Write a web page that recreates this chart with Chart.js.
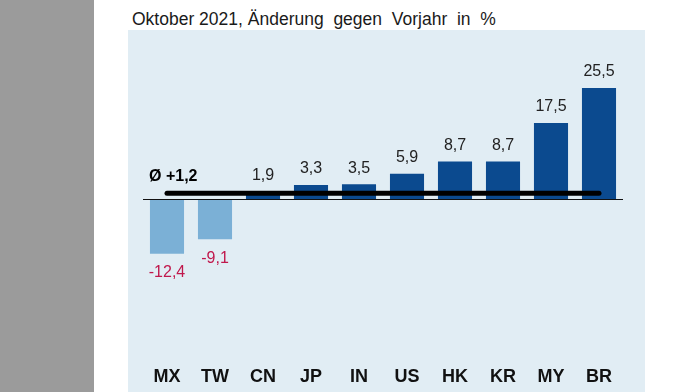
<!DOCTYPE html>
<html>
<head>
<meta charset="utf-8">
<script src="https://cdn.jsdelivr.net/npm/chart.js@4.4.1/dist/chart.umd.min.js"></script>
<style>
  html, body { margin: 0; padding: 0; width: 675px; height: 392px; overflow: hidden; background: #ffffff; }
  #strip { position: absolute; left: 0; top: 0; width: 94px; height: 392px; background: #9b9b9b; }
  #panel { position: absolute; left: 128px; top: 30px; width: 517px; height: 362px; background: #e1edf4; }
  #title { position: absolute; left: 132px; top: 9px; font: 17.5px "Liberation Sans", Arial, sans-serif; color: #1a1a1a; white-space: pre; }
  #wrap { position: absolute; left: 0; top: 0; width: 675px; height: 392px; }
</style>
</head>
<body>
<div id="strip"></div>
<div id="panel"></div>
<div id="title">Oktober 2021, Änderung  gegen  Vorjahr  in  %</div>
<div id="wrap"><canvas id="c" width="675" height="392"></canvas></div>
<script>
const categories = ["MX", "TW", "CN", "JP", "IN", "US", "HK", "KR", "MY", "BR"];
const changes = [-12.4, -9.1, 1.9, 3.3, 3.5, 5.9, 8.7, 8.7, 17.5, 25.5];
const valueLabels = ["-12,4", "-9,1", "1,9", "3,3", "3,5", "5,9", "8,7", "8,7", "17,5", "25,5"];
const avgValue = 1.2;
const avgLabel = "Ø +1,2";

const posColor = "#0b4a8f";
const negColor = "#7bb0d6";

const overlay = {
  id: "overlay",
  afterDatasetsDraw(chart) {
    const ctx = chart.ctx;
    const area = chart.chartArea;
    const y = chart.scales.y;
    const x = chart.scales.x;
    const meta = chart.getDatasetMeta(0);
    ctx.save();
    const y0 = Math.round(y.getPixelForValue(0)) + 0.5;
    ctx.strokeStyle = "#111";
    ctx.lineWidth = 1;
    ctx.beginPath();
    ctx.moveTo(area.left, y0);
    ctx.lineTo(area.right, y0);
    ctx.stroke();
    const ya = y.getPixelForValue(avgValue) - 1;
    ctx.strokeStyle = "#000";
    ctx.lineWidth = 5;
    ctx.lineCap = "round";
    ctx.beginPath();
    ctx.moveTo(x.getPixelForValue(0), ya);
    ctx.lineTo(x.getPixelForValue(categories.length - 1), ya);
    ctx.stroke();
    ctx.font = "bold 16px 'Liberation Sans', Arial, sans-serif";
    ctx.fillStyle = "#000";
    ctx.textAlign = "left";
    ctx.textBaseline = "middle";
    ctx.fillText(avgLabel, 149, ya - 17);
    ctx.font = "16px 'Liberation Sans', Arial, sans-serif";
    ctx.textAlign = "center";
    meta.data.forEach((bar, i) => {
      const v = changes[i];
      if (v >= 0) {
        ctx.fillStyle = "#222";
        ctx.fillText(valueLabels[i], bar.x, bar.y - 16);
      } else {
        ctx.fillStyle = "#c0184c";
        ctx.fillText(valueLabels[i], bar.x, bar.y + 19);
      }
    });
    ctx.restore();
  }
};

new Chart(document.getElementById("c"), {
  type: "bar",
  data: {
    labels: categories,
    datasets: [{
      data: changes,
      backgroundColor: changes.map(v => v < 0 ? negColor : posColor),
      borderWidth: 0,
      barPercentage: 0.71,
      categoryPercentage: 1.0
    }]
  },
  options: {
    responsive: false,
    animation: false,
    events: [],
    layout: { padding: { left: 143, right: 52, top: 40, bottom: -10 } },
    plugins: { legend: { display: false }, tooltip: { enabled: false }, title: { display: false } },
    scales: {
      y: { display: false, min: -35, max: 36.5 },
      x: {
        grid: { display: false, drawTicks: false },
        border: { display: false },
        ticks: {
          color: "#111",
          padding: 14,
          font: { family: "'Liberation Sans', Arial, sans-serif", size: 18, weight: "bold" }
        }
      }
    }
  },
  plugins: [overlay]
});
</script>
</body>
</html>
